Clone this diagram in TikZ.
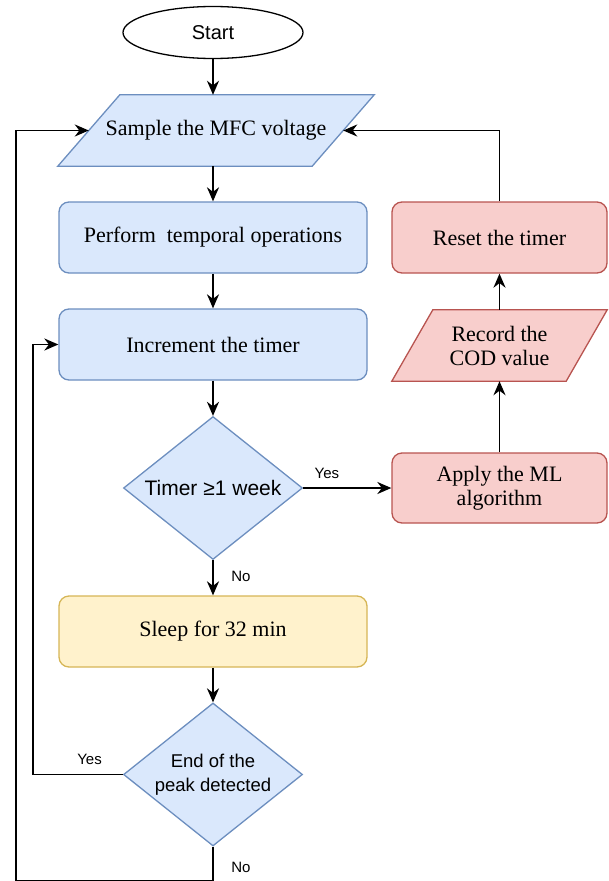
\documentclass[tikz,border=0pt]{standalone}
\usepackage{fontspec}
\setmainfont{Liberation Serif}
\setsansfont{Liberation Sans}
\usetikzlibrary{shapes.geometric,arrows.meta,backgrounds}

\definecolor{bluefill}{HTML}{DAE8FC}
\definecolor{blueline}{HTML}{6C8EBF}
\definecolor{redfill}{HTML}{F8CECC}
\definecolor{redline}{HTML}{B85450}
\definecolor{yellowfill}{HTML}{FFF2CC}
\definecolor{yellowline}{HTML}{D6B656}

\begin{document}
\begin{tikzpicture}[x=1pt,y=-1pt,
  box/.style={rectangle, rounded corners=10pt, draw, line width=1.3pt,
    minimum width=308pt, minimum height=71pt, inner sep=0pt,
    font=\fontsize{22}{24}\selectfont, align=center},
  bluebox/.style={box, fill=bluefill, draw=blueline},
  redbox/.style={box, fill=redfill, draw=redline, minimum width=215pt},
  yellowbox/.style={box, fill=yellowfill, draw=yellowline},
  iobox/.style={rectangle, inner sep=0pt, minimum height=71pt,
    font=\fontsize{22}{24}\selectfont, align=center},
  ioshape/.style={line width=1.3pt},
  decision/.style={diamond, aspect=1.25, draw=blueline, fill=bluefill,
    line width=1.3pt, inner sep=0pt, minimum width=179pt, minimum height=143pt,
    align=center, font=\sffamily},
  terminal/.style={ellipse, draw=black, line width=1.3pt, fill=white,
    minimum width=180pt, minimum height=52pt, inner sep=0pt,
    font=\sffamily\fontsize{20}{24}\selectfont},
  arr/.style={-{Stealth[length=14pt,width=12pt,inset=4.5pt]}, line width=1.8pt},
  lbl/.style={font=\sffamily\fontsize{15}{17}\selectfont, inner sep=0pt}
]
\useasboundingbox (0,0) rectangle (608,881);

% nodes of the main column
\node[terminal] (start) at (213,32.5) {Start};
\node[iobox, minimum width=254pt] (sample) at (216,130.5) {Sample the MFC voltage};
\node[bluebox] (perf) at (213,237.5) {Perform~ temporal operations};
\node[bluebox] (inc) at (213,344.5) {Increment the timer};
\node[decision, font=\sffamily\fontsize{21}{24}\selectfont] (week) at (213,488) {Timer ≥1 week};
\node[yellowbox] (sleep) at (213,631.5) {Sleep for 32 min};
\node[decision, font=\sffamily\fontsize{18.5}{24}\selectfont] (peak) at (213,774.5) {End of the\\peak detected};

% nodes of the right column
\node[redbox] (reset) at (499.5,237.5) {Reset the timer};
\node[iobox, minimum width=174pt] (record) at (499.5,345.5) {Record the\\COD value};
\node[redbox, minimum height=70pt] (ml) at (499.5,488) {Apply the ML\\algorithm};

% slanted input/output outlines behind their text
\begin{scope}[on background layer]
  \draw[ioshape, draw=blueline, fill=bluefill]
    ([xshift=31pt]sample.north west) -- ([xshift=31pt]sample.north east)
    -- ([xshift=-31pt]sample.south east) -- ([xshift=-31pt]sample.south west) -- cycle;
  \draw[ioshape, draw=redline, fill=redfill]
    ([xshift=20.5pt]record.north west) -- ([xshift=20.5pt]record.north east)
    -- ([xshift=-20.5pt]record.south east) -- ([xshift=-20.5pt]record.south west) -- cycle;
\end{scope}

\coordinate (loopbot) at (16,880.5);

% connectors
\draw[arr] (start.south) -- (start.south |- sample.north);
\draw[arr] (perf.north |- sample.south) -- (perf.north);
\draw[arr] (perf.south) -- (inc.north);
\draw[arr] (inc.south) -- (week.north);
\draw[arr] (week.south) -- node[lbl, pos=0.46, xshift=28pt] {No} (sleep.north);
\draw[arr] (sleep.south) -- (peak.north);
\draw[arr] (week.east) -- node[lbl, pos=0.27, yshift=15pt] {Yes} (ml.west);
\draw[arr] (ml.north) -- (record.south);
\draw[arr] (record.north) -- (reset.south);
\draw[arr] (reset.north) |- (sample.east);
\draw[arr] (peak.west) -- node[lbl, pos=0.37, yshift=15pt] {Yes} ++(-90,0) |- (inc.west);
\draw[arr] (peak.south) |- node[lbl, pos=0.31, xshift=28pt] {No} (loopbot) |- (sample.west);
\end{tikzpicture}
\end{document}
